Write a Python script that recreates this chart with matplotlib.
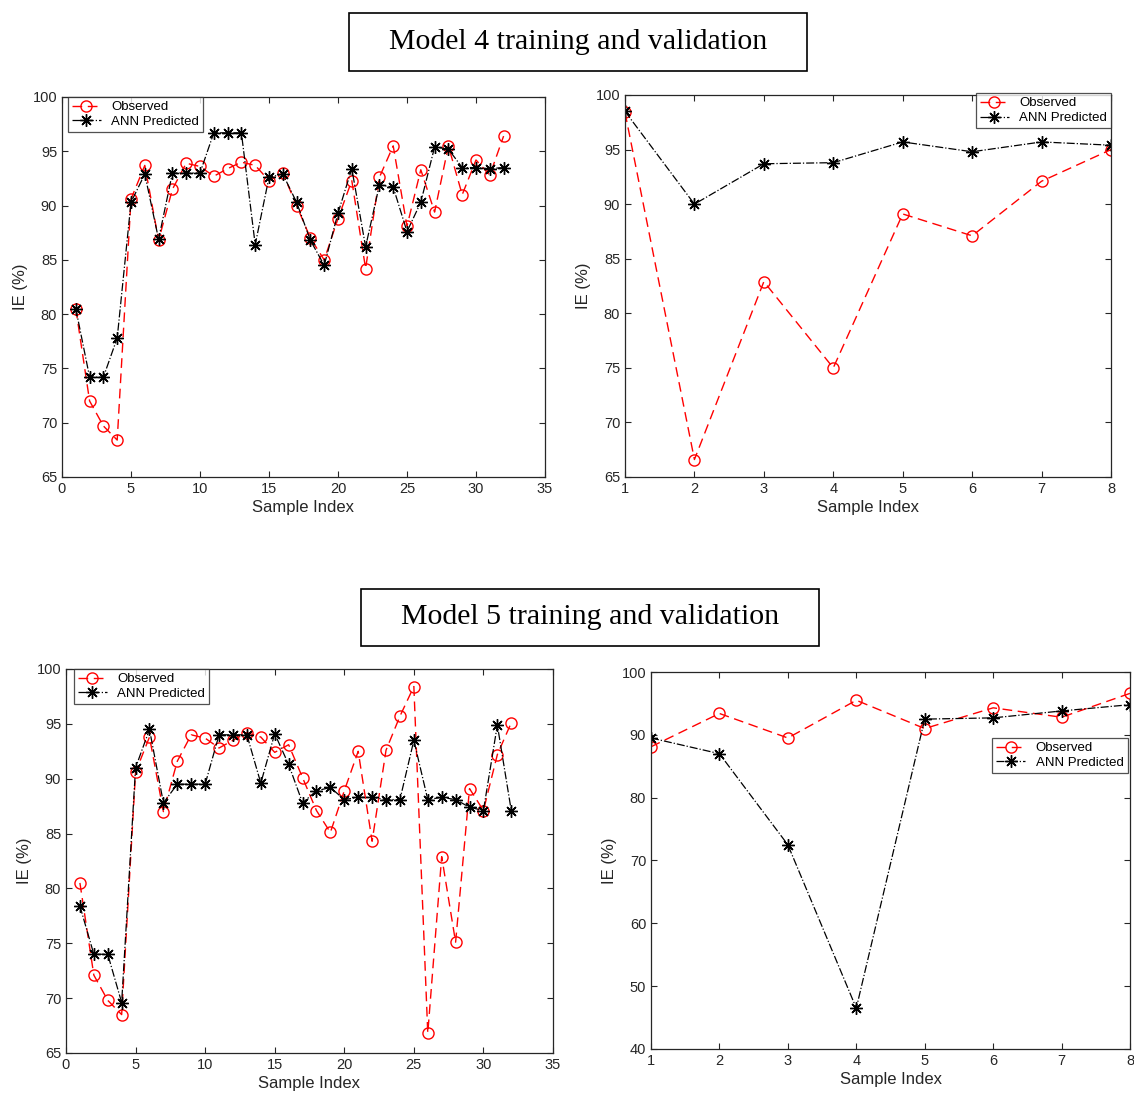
import numpy as np
import matplotlib.pyplot as plt
from matplotlib.patches import Rectangle

# Model 4 training (32 samples)
m4_train_obs = [80.5, 72.0, 69.7, 68.4, 90.6, 93.7, 86.8, 91.5, 93.9, 93.6, 92.7, 93.4, 94.0, 93.7, 92.3, 93.0,
                90.0, 87.0, 85.0, 88.8, 92.3, 84.2, 92.6, 95.5, 88.1, 93.3, 89.4, 95.5, 91.0, 94.2, 92.8, 96.4]
m4_train_ann = [80.5, 74.2, 74.2, 77.8, 90.3, 92.9, 86.9, 93.0, 93.0, 93.0, 96.7, 96.7, 96.7, 86.4, 92.6, 92.9,
                90.3, 86.8, 84.5, 89.3, 93.4, 86.2, 91.9, 91.7, 87.6, 90.3, 95.4, 95.2, 93.5, 93.5, 93.4, 93.5]
# Model 4 validation (8 samples)
m4_val_obs = [98.4, 66.6, 82.9, 75.0, 89.1, 87.1, 92.1, 95.0]
m4_val_ann = [98.5, 90.0, 93.7, 93.8, 95.7, 94.8, 95.7, 95.4]
# Model 5 training
m5_train_obs = [80.5, 72.1, 69.8, 68.5, 90.6, 93.8, 87.0, 91.6, 94.0, 93.7, 92.8, 93.5, 94.2, 93.8, 92.4, 93.1,
                90.1, 87.1, 85.1, 88.9, 92.5, 84.3, 92.6, 95.7, 98.4, 66.8, 82.9, 75.1, 89.1, 87.1, 92.2, 95.1]
m5_train_ann = [78.4, 74.0, 74.0, 69.6, 91.0, 94.5, 87.8, 89.5, 89.5, 89.5, 94.0, 94.0, 94.0, 89.6, 94.1, 91.3,
                87.8, 88.9, 89.2, 88.1, 88.3, 88.3, 88.1, 88.1, 93.5, 88.1, 88.3, 88.1, 87.4, 87.1, 94.9, 87.1]
# Model 5 validation
m5_val_obs = [88.1, 93.4, 89.5, 95.5, 91.0, 94.3, 92.8, 96.6]
m5_val_ann = [89.5, 87.0, 72.5, 46.5, 92.5, 92.7, 93.8, 94.8]

titles = ["Model 4 training and validation", "Model 5 training and validation"]

W, H = 1134, 1099
grey = "#262626"
plt.rcParams["font.family"] = ["Liberation Sans", "DejaVu Sans"]

fig = plt.figure(figsize=(W / 100, H / 100), dpi=100)


def px_axes(l, t, r, b):
    return fig.add_axes([l / W, 1 - b / H, (r - l) / W, (b - t) / H])


def panel(ax, obs, ann, xlim, xticks, ylim, yticks, legend_loc, anchor):
    x = np.arange(1, len(obs) + 1)
    ax.plot(x, obs, "--o", color="red", mfc="none", ms=8, lw=1, dashes=(7, 4), label="Observed")
    ax.plot(x, ann, "-.", marker=(8, 2, 0), color="black", ms=9, mew=1, lw=0.9, label="ANN Predicted")
    ax.set_xlim(xlim)
    ax.set_ylim(ylim)
    ax.set_xticks(xticks)
    ax.set_yticks(yticks)
    ax.tick_params(direction="in", top=True, right=True, labelsize=10.5, colors=grey, length=4)
    for s in ax.spines.values():
        s.set_color(grey)
        s.set_linewidth(0.9)
    ax.set_xlabel("Sample Index", fontsize=12, color=grey, labelpad=3)
    ax.set_ylabel("IE (%)", fontsize=12, color=grey, labelpad=3)
    leg = ax.legend(loc=legend_loc, bbox_to_anchor=anchor, fontsize=9.5, fancybox=False, borderaxespad=0,
                    handlelength=2.2, borderpad=0.3, labelspacing=0.2)
    leg.get_frame().set_edgecolor(grey)
    leg.get_frame().set_linewidth(0.9)


ax1 = px_axes(62, 97, 545, 477)
panel(ax1, m4_train_obs, m4_train_ann, (0, 35), range(0, 36, 5), (65, 100), range(65, 101, 5),
      "upper left", (0.012, 1.0))

ax2 = px_axes(625, 95, 1111, 477)
panel(ax2, m4_val_obs, m4_val_ann, (1, 8), range(1, 9), (65, 100), range(65, 101, 5),
      "upper right", (1.0, 1.005))

ax3 = px_axes(66, 669, 553, 1053)
panel(ax3, m5_train_obs, m5_train_ann, (0, 35), range(0, 36, 5), (65, 100), range(65, 101, 5),
      "upper left", (0.016, 1.0))

ax4 = px_axes(651, 672, 1130, 1049)
panel(ax4, m5_val_obs, m5_val_ann, (1, 8), range(1, 9), (40, 100), range(40, 101, 10),
      "upper right", (0.995, 0.825))

# title boxes
for (l, t, r, b), txt in zip([(349, 13, 807, 71), (361, 589, 819, 646)], titles):
    fig.patches.append(Rectangle((l / W, 1 - b / H), (r - l) / W, (b - t) / H, transform=fig.transFigure,
                                 fill=False, edgecolor="black", lw=1.2))
    fig.text((l + r) / 2 / W, 1 - (t + b) / 2 / H, txt, ha="center", va="center", fontsize=21.5,
             family="Liberation Serif")

fig.savefig("out.png", dpi=100)
